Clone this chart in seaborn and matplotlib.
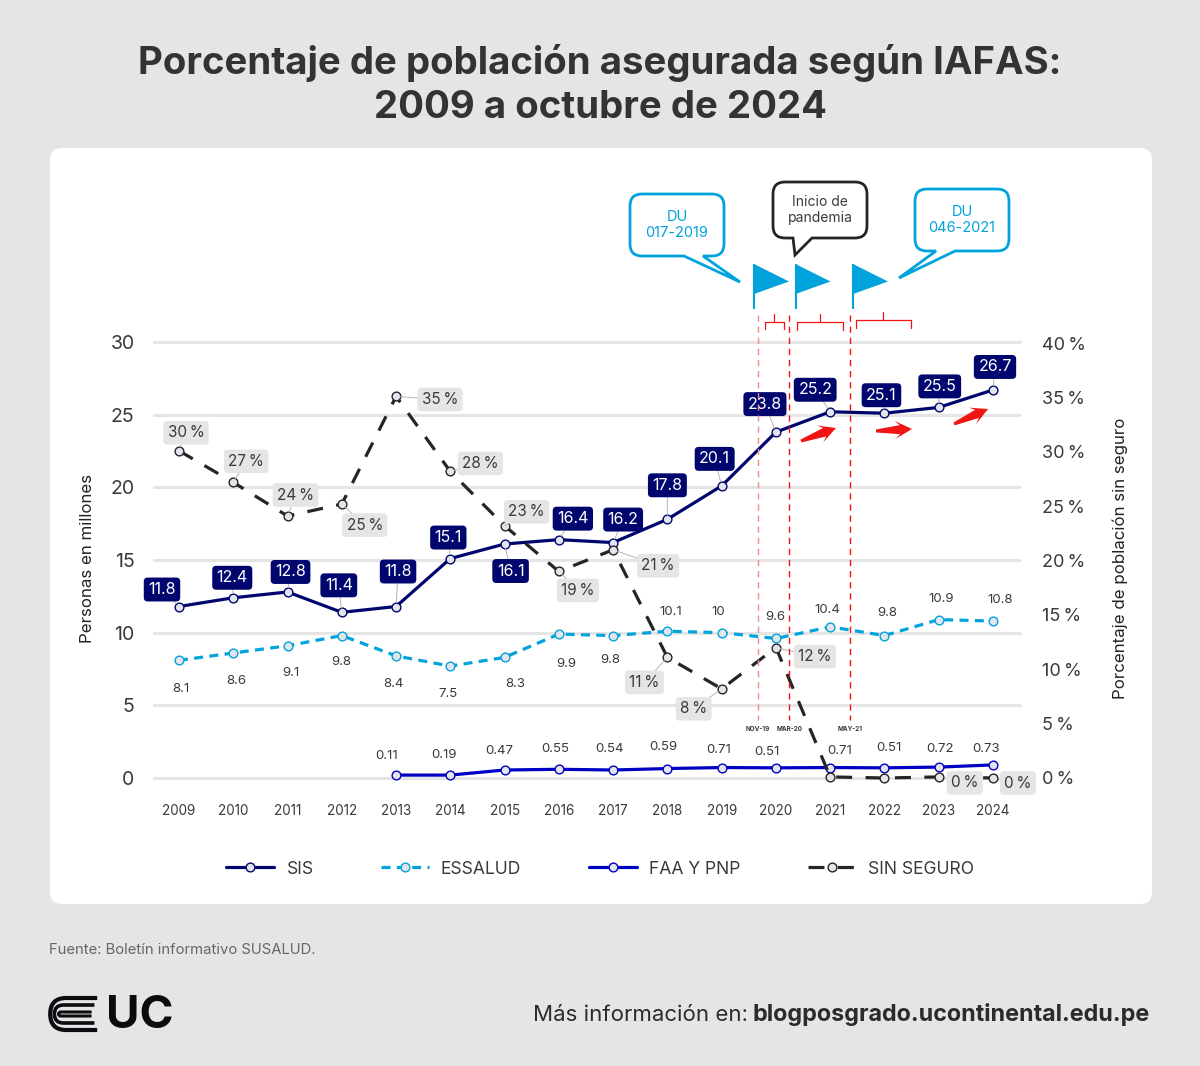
import matplotlib
matplotlib.use('Agg')
import matplotlib.pyplot as plt
import seaborn as sns
from matplotlib.patches import FancyBboxPatch, PathPatch, Polygon
from matplotlib.path import Path

years = list(range(2009, 2025))
sis = [11.8, 12.4, 12.8, 11.4, 11.8, 15.1, 16.1, 16.4, 16.2, 17.8, 20.1, 23.8, 25.2, 25.1, 25.5, 26.7]
essalud = [8.1, 8.6, 9.1, 9.8, 8.4, 7.7, 8.3, 9.9, 9.8, 10.1, 10.0, 9.6, 10.4, 9.8, 10.9, 10.8]
essalud_labels = ['8.1', '8.6', '9.1', '9.8', '8.4', '7.5', '8.3', '9.9', '9.8', '10.1', '10', '9.6', '10.4', '9.8', '10.9', '10.8']
faa_years = list(range(2013, 2025))
faa = [0.2, 0.2, 0.55, 0.6, 0.55, 0.65, 0.72, 0.7, 0.72, 0.7, 0.75, 0.9]
faa_labels = ['0.11', '0.19', '0.47', '0.55', '0.54', '0.59', '0.71', '0.51', '0.71', '0.51', '0.72', '0.73']
sin_seguro = [30.1, 27.2, 24.1, 25.2, 35.1, 28.2, 23.2, 19.0, 21.0, 11.1, 8.2, 12.0, 0.1, 0.0, 0.1, 0.0]
sin_labels = ['30', '27', '24', '25', '35', '28', '23', '19', '21', '11', '8', '12', None, None, '0', '0']

# label offsets from the point, pixels
sis_off = [(-17, 17), (-1, 20), (3, 20), (-3, 27), (2, 35), (-2, 21), (6, -27), (14, 21), (10, 23),
           (0, 34), (-7, 27), (-11, 28), (-15, 22), (-3, 18), (1, 21), (2, 23)]
sin_off = [(7, 18), (13, 21), (8, 21), (23, -21), (44, -3), (30, 8), (22, 14), (19, -19), (45, -16),
           (-23, -25), (-28, -20), (39, -9), None, None, (26, -6), (25, -5)]
ess_off = [(2, -29), (3, -28), (3, -27), (-1, -26), (-3, -28), (-2, -28), (11, -27), (7, -30), (-3, -24),
           (3, 19), (-3, 21), (-1, 21), (-3, 17), (3, 23), (2, 21), (7, 21)]
faa_off = [(-9, 19), (-6, 20), (-5, 19), (-4, 20), (-4, 21), (-4, 22), (-3, 18), (-9, 16), (9, 17), (4, 20), (1, 18), (-7, 16)]

NAVY = '#00066e'
SKY = '#00a3dc'
BLUE = '#0000c4'
DARK = '#252525'
GREY = '#e5e5e5'
TEXT = '#3a3a3a'
RED = '#f01414'
MARKER = '#e4e5ec'

sns.set_theme(style='white')
plt.rcParams['font.family'] = ['Inter', 'DejaVu Sans']

W, H = 1200, 1066
fig = plt.figure(figsize=(W / 100, H / 100), dpi=100, facecolor=GREY)


def overlay(z):
    a = fig.add_axes([0, 0, 1, 1], zorder=z)
    a.set_xlim(0, W)
    a.set_ylim(H, 0)
    a.axis('off')
    return a


back = overlay(0)
front = overlay(6)

back.add_patch(FancyBboxPatch((60, 158), 1082, 736, boxstyle='round,pad=10,rounding_size=12',
                              fc='white', ec='none'))

# plot area: x from 154 to 1020 px, y from 778 to 342 px
ax = fig.add_axes([154 / W, 1 - 778 / H, 866 / W, 436 / H], zorder=2)
ax.patch.set_alpha(0)
ax.set_xlim(2009 - 25 / 54.27, 2024 + 27 / 54.27)
ax.set_ylim(0, 30)
ax2 = ax.twinx()
ax2.set_zorder(3)
ax2.patch.set_alpha(0)
ax2.set_ylim(0, 436 / 10.87)

mk = dict(marker='o', ms=6.3, mfc=MARKER, mew=1.0, clip_on=False, errorbar=None)
sns.lineplot(x=years, y=sis, ax=ax, color=NAVY, lw=2.3, mec=NAVY, label='SIS', legend=False, zorder=5, **mk)
sns.lineplot(x=years, y=essalud, ax=ax, color=SKY, lw=2.3, mec=SKY, linestyle=(0, (2.8, 2.0)),
             label='ESSALUD', legend=False, zorder=4, **mk)
sns.lineplot(x=faa_years, y=faa, ax=ax, color=BLUE, lw=2.3, mec=BLUE, label='FAA Y PNP', legend=False, zorder=4, **mk)
sns.lineplot(x=years, y=sin_seguro, ax=ax2, color=DARK, lw=2.3, mec=DARK, linestyle=(0, (5, 4.2)),
             label='SIN SEGURO', legend=False, zorder=4, **mk)

ax.set_yticks(range(0, 31, 5))
ax.set_xticks(years)
ax.grid(axis='y', color=GREY, lw=2.2)
ax.grid(axis='x', visible=False)
for g in ax.get_ygridlines():
    g.set_clip_on(False)
ax.tick_params(axis='y', length=0, pad=14, labelsize=14, labelcolor=TEXT)
ax.tick_params(axis='x', length=0, pad=19, labelsize=9.7, labelcolor=TEXT)
ax2.set_yticks(range(0, 41, 5))
ax2.set_yticklabels([f'{v}\u2009%' for v in range(0, 41, 5)])
ax2.tick_params(axis='y', length=0, pad=16, labelsize=13, labelcolor=TEXT)
ax2.grid(False)
sns.despine(ax=ax, left=True, right=True, top=True, bottom=True)
sns.despine(ax=ax2, left=True, right=True, top=True, bottom=True)
ax.set_ylabel('Personas en millones', fontsize=12.2, color='#222222', labelpad=11, y=0.503)
ax2.set_ylabel('Porcentaje de población sin seguro', fontsize=12.2, color='#222222', labelpad=19, rotation=90, y=0.503)

line_kw = dict(arrowstyle='-', color='#b5b5b5', lw=0.7, shrinkA=0, shrinkB=3)

for x, y, off in zip(years, sis, sis_off):
    ax.annotate(f'{y:g}', (x, y), xytext=off, textcoords='offset pixels', ha='center', va='center',
                color='white', fontsize=11.5, zorder=7, annotation_clip=False,
                bbox=dict(boxstyle='round,pad=0.28,rounding_size=0.25', fc=NAVY, ec='none'),
                arrowprops=line_kw)

for x, y, lab, off in zip(years, sin_seguro, sin_labels, sin_off):
    if lab is None:
        continue
    arrow = None if lab == '0' else line_kw
    ax2.annotate(f'{lab}\u2009%', (x, y), xytext=off, textcoords='offset pixels', ha='center', va='center',
                 color=TEXT, fontsize=11, zorder=7, annotation_clip=False,
                 bbox=dict(boxstyle='round,pad=0.28,rounding_size=0.25', fc=GREY, ec='none'),
                 arrowprops=arrow)

for x, y, lab, off in zip(years, essalud, essalud_labels, ess_off):
    ax.annotate(lab, (x, y), xytext=off, textcoords='offset pixels', ha='center', va='center',
                color=TEXT, fontsize=9.5, annotation_clip=False)

for x, y, lab, off in zip(faa_years, faa, faa_labels, faa_off):
    ax.annotate(lab, (x, y), xytext=off, textcoords='offset pixels', ha='center', va='center',
                color=TEXT, fontsize=9.5, annotation_clip=False)

handles = ax.get_lines()
handles = [h for h in handles if h.get_label() in ('SIS', 'ESSALUD', 'FAA Y PNP')] + \
          [h for h in ax2.get_lines() if h.get_label() == 'SIN SEGURO']
fig.legend(handles, [h.get_label() for h in handles], loc='center', bbox_to_anchor=(600 / W, 1 - 869 / H),
           ncol=4, frameon=False, fontsize=12.6, labelcolor=TEXT, handlelength=2.74, handletextpad=0.69,
           columnspacing=3.85, numpoints=1)

# event markers
for x, lab, col in [(757.7, 'NOV-19', '#f58a8a'), (789.3, 'MAR-20', RED), (850.3, 'MAY-21', RED)]:
    front.plot([x, x], [315, 720], color=col, lw=1.0, ls=(0, (4.5, 3.5)))
    front.text(x, 729, lab, ha='center', va='center', fontsize=4.6, color=TEXT, fontweight='bold')

for x0, x1, top, low, tip in [(764.7, 784, 322, 329, 314), (797, 843, 322, 330, 314), (855.6, 911, 320, 328, 312)]:
    front.plot([x0, x0, x1, x1], [low, top, top, low], color=RED, lw=0.9)
    front.plot([(x0 + x1) / 2] * 2, [top, tip], color=RED, lw=0.9)

for x in [754, 795.5, 853]:
    front.plot([x, x], [264, 309], color=SKY, lw=1.5, solid_capstyle='butt')
    front.add_patch(Polygon([(x, 264), (x + 35, 281.5), (x, 294)], fc=SKY, ec='none'))


def bubble(x0, y0, x1, y1, b0, b1, tip, color, r=12):
    verts = [(x0 + r, y0), (x1 - r, y0), (x1, y0), (x1, y0 + r), (x1, y1 - r), (x1, y1), (x1 - r, y1),
             (b1, y1), tip, (b0, y1), (x0 + r, y1), (x0, y1), (x0, y1 - r), (x0, y0 + r), (x0, y0), (x0 + r, y0),
             (x0 + r, y0)]
    L, C = Path.LINETO, Path.CURVE3
    codes = [Path.MOVETO, L, C, C, L, C, C, L, L, L, L, C, C, L, C, C, Path.CLOSEPOLY]
    front.add_patch(PathPatch(Path(verts, codes), fc='white', ec=color, lw=2.0, joinstyle='miter'))


bubble(630, 194, 724, 256, 684, 703, (740, 282), SKY)
bubble(773, 182, 867, 238, 793, 812, (795, 255), DARK)
bubble(915, 189, 1009, 251, 936, 955, (899, 278), SKY)
front.text(677, 225, 'DU\n017-2019', ha='center', va='center', color=SKY, fontsize=10.5, linespacing=1.1)
front.text(820, 210, 'Inicio de\npandemia', ha='center', va='center', color=TEXT, fontsize=10, linespacing=1.1)
front.text(962, 220, 'DU\n046-2021', ha='center', va='center', color=SKY, fontsize=10.5, linespacing=1.1)


def red_arrow(x0, y0, x1, y1):
    dx, dy = x1 - x0, y1 - y0
    n = (dx ** 2 + dy ** 2) ** 0.5
    ux, uy = dx / n, dy / n
    px, py = -uy, ux
    back_at = n - 12
    pts = [(0, -1.5), (back_at, -4.5), (back_at - 5, -9), (n, 0), (back_at - 5, 9), (back_at, 4.5), (0, 1.5)]
    front.add_patch(Polygon([(x0 + a * ux + b * px, y0 + a * uy + b * py) for a, b in pts], fc=RED, ec='none'))


red_arrow(801, 441, 836, 428)
red_arrow(876, 431, 912, 429)
red_arrow(954, 424, 988, 409)

# title and footer
front.text(600, 85, 'Porcentaje de población asegurada según IAFAS:\n2009 a octubre de 2024', ha='center',
           va='center', fontsize=27.6, fontweight='bold', color='#333333', linespacing=1.28)
front.text(49, 950, 'Fuente: Boletín informativo SUSALUD.', ha='left', va='center', fontsize=10.7, color='#666666')
front.text(1150, 1015, 'blogposgrado.ucontinental.edu.pe', ha='right', va='center', fontsize=16.8, fontweight='bold',
           color='#2b2b2b')
front.text(748, 1015, 'Más información en:', ha='right', va='center', fontsize=16, color='#2b2b2b')

# logo
front.text(140, 1016, 'UC', ha='center', va='center', fontsize=33, fontweight='bold', color='#0b0b10')
for inset, lw in [(2, 3.0), (9, 2.6), (16, 2.2)]:
    x0, y0, y1 = 49 + inset * 0.6, 996 + inset, 1032 - inset
    r = (y1 - y0) / 2
    verts = [(98 - inset * 0.4, y0), (x0 + r, y0), (x0, y0), (x0, y0 + r), (x0, y1), (x0 + r, y1), (98 - inset * 0.4, y1)]
    codes = [Path.MOVETO, Path.LINETO, Path.CURVE3, Path.CURVE3, Path.CURVE3, Path.CURVE3, Path.LINETO]
    front.add_patch(PathPatch(Path(verts, codes), fc='none', ec='#0b0b10', lw=lw))

fig.savefig('out.png', dpi=100, facecolor=fig.get_facecolor())
